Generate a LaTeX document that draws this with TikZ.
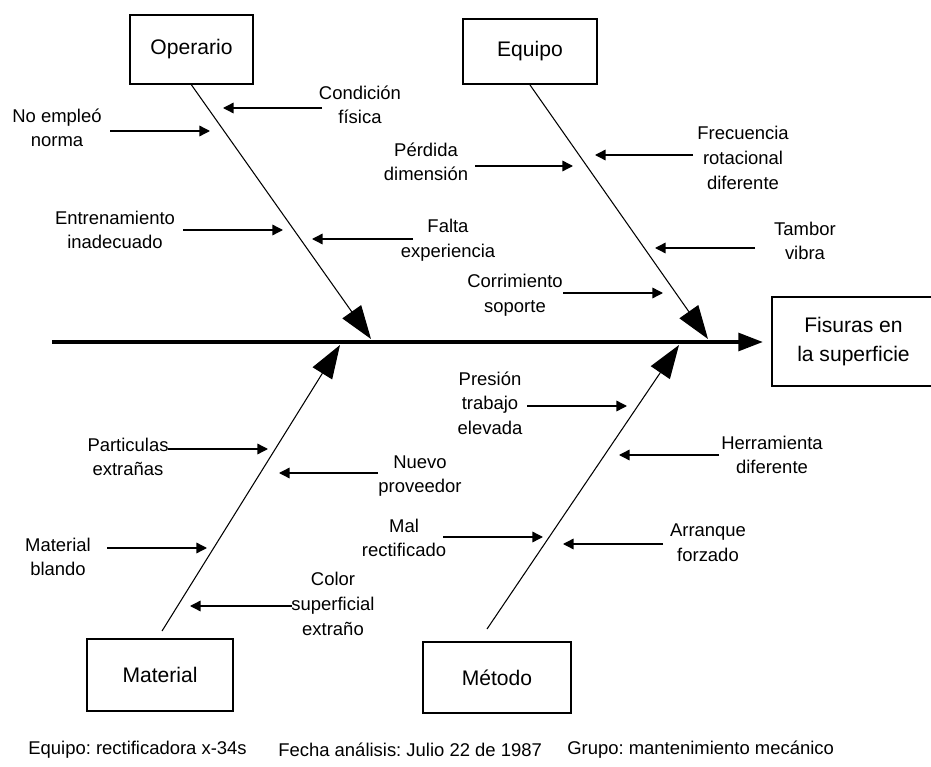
\documentclass[tikz,border=0pt]{standalone}
\usepackage{fontspec}
\setmainfont{Liberation Sans}
\usetikzlibrary{arrows.meta}
\frenchspacing

\begin{document}
\begin{tikzpicture}[x=0.02cm,y=-0.02cm,
    caja/.style={draw,line width=1.1pt,inner sep=0pt,align=center,font=\fontsize{12}{16}\selectfont},
    etiqueta/.style={align=center,inner sep=0pt,font=\fontsize{10.5}{14}\selectfont},
    espina/.style={line width=0.6pt,-{Triangle[length=19pt,width=13pt]}},
    causa/.style={line width=0.8pt,-{Triangle[length=6pt,width=6pt]}}]
      \useasboundingbox (0,0) rectangle (931,767);

      % cajas de las categorias y del efecto
      \node[caja,minimum width=123*0.02cm,minimum height=69*0.02cm] (operario) at (191.5,49.5) {Operario};
      \node[caja,minimum width=134*0.02cm,minimum height=65*0.02cm] (equipo) at (530,51.5) {Equipo};
      \node[caja,minimum width=146*0.02cm,minimum height=72*0.02cm] (material) at (160,675) {Material};
      \node[caja,minimum width=148*0.02cm,minimum height=71*0.02cm] (metodo) at (497,677.5) {Método};
      \node[caja,minimum width=163*0.02cm,minimum height=89*0.02cm] (efecto) at (853.5,341.5) {Fisuras en\\la superficie};

      % eje principal
      \coordinate (E0) at (52,342);
      \coordinate (E1) at (763,342);
      \draw[line width=2.3pt,-{Triangle[length=14pt,width=10pt]}] (E0) -- (E1);

      % espinas
      \coordinate (Ot) at (371,339);
      \coordinate (Qt) at (708,339);
      \coordinate (Mt) at (340,345);
      \coordinate (Dt) at (679,345);
      \draw[espina] (operario.south) -- (Ot);
      \draw[espina] (equipo.south) -- (Qt);
      \draw[espina] (material.north) ++(2,-7) -- (Mt);
      \draw[espina] (metodo.north) ++(-10,-12) -- (Dt);

      % causas: Operario
      \node[etiqueta] (condicion) at (360,105) {Condición\\física};
      \node[etiqueta] (noempleo) at (57,128) {No empleó\\norma};
      \node[etiqueta] (entrenamiento) at (115,230) {Entrenamiento\\inadecuado};
      \node[etiqueta] (falta) at (448,240) {Falta\\experiencia};
      \coordinate (c1a) at (322,108); \coordinate (c1b) at (223,108);
      \coordinate (c2a) at (110,131); \coordinate (c2b) at (210,131);
      \coordinate (c3a) at (183,230); \coordinate (c3b) at (283,230);
      \coordinate (c4a) at (413,239); \coordinate (c4b) at (312,239);
      \draw[causa] (c1a) -- (c1b);
      \draw[causa] (c2a) -- (c2b);
      \draw[causa] (c3a) -- (c3b);
      \draw[causa] (c4a) -- (c4b);

      % causas: Equipo
      \node[etiqueta] (perdida) at (426,162) {Pérdida\\dimensión};
      \node[etiqueta] (frecuencia) at (743,158) {Frecuencia\\rotacional\\diferente};
      \node[etiqueta] (tambor) at (805,241) {Tambor\\vibra};
      \node[etiqueta] (corrimiento) at (515,295) {Corrimiento\\soporte};
      \coordinate (q1a) at (475,166); \coordinate (q1b) at (573,166);
      \coordinate (q2a) at (693,155); \coordinate (q2b) at (595,155);
      \coordinate (q3a) at (755,248); \coordinate (q3b) at (655,248);
      \coordinate (q4a) at (563,293); \coordinate (q4b) at (663,293);
      \draw[causa] (q1a) -- (q1b);
      \draw[causa] (q2a) -- (q2b);
      \draw[causa] (q3a) -- (q3b);
      \draw[causa] (q4a) -- (q4b);

      % causas: Material
      \node[etiqueta] (particulas) at (128,457) {Particulas\\extrañas};
      \node[etiqueta] (nuevo) at (420,476) {Nuevo\\proveedor};
      \node[etiqueta] (blando) at (58,557) {Material\\blando};
      \node[etiqueta] (color) at (333,604) {Color\\superficial\\extraño};
      \coordinate (m1a) at (168,449); \coordinate (m1b) at (268,449);
      \coordinate (m2a) at (378,473); \coordinate (m2b) at (279,473);
      \coordinate (m3a) at (107,548); \coordinate (m3b) at (207,548);
      \coordinate (m4a) at (292,606); \coordinate (m4b) at (190,606);
      \draw[causa] (m1a) -- (m1b);
      \draw[causa] (m2a) -- (m2b);
      \draw[causa] (m3a) -- (m3b);
      \draw[causa] (m4a) -- (m4b);

      % causas: Metodo
      \node[etiqueta] (presion) at (490,403) {Presión\\trabajo\\elevada};
      \node[etiqueta] (herramienta) at (772,455) {Herramienta\\diferente};
      \node[etiqueta] (mal) at (404,538) {Mal\\rectificado};
      \node[etiqueta] (arranque) at (708,543) {Arranque\\forzado};
      \coordinate (d1a) at (527,406); \coordinate (d1b) at (627,406);
      \coordinate (d2a) at (719,455); \coordinate (d2b) at (619,455);
      \coordinate (d3a) at (443,537); \coordinate (d3b) at (543,537);
      \coordinate (d4a) at (663,544); \coordinate (d4b) at (563,544);
      \draw[causa] (d1a) -- (d1b);
      \draw[causa] (d2a) -- (d2b);
      \draw[causa] (d3a) -- (d3b);
      \draw[causa] (d4a) -- (d4b);

      % datos del analisis
      \node[etiqueta,anchor=west] (pie1) at (28,750) {Equipo: rectificadora x-34s};
      \node[etiqueta,anchor=west] (pie2) at (278,750) {Fecha análisis: Julio 22 de 1987};
      \node[etiqueta,anchor=west] (pie3) at (567,750) {Grupo: mantenimiento mecánico};
    \end{tikzpicture}
\end{document}
